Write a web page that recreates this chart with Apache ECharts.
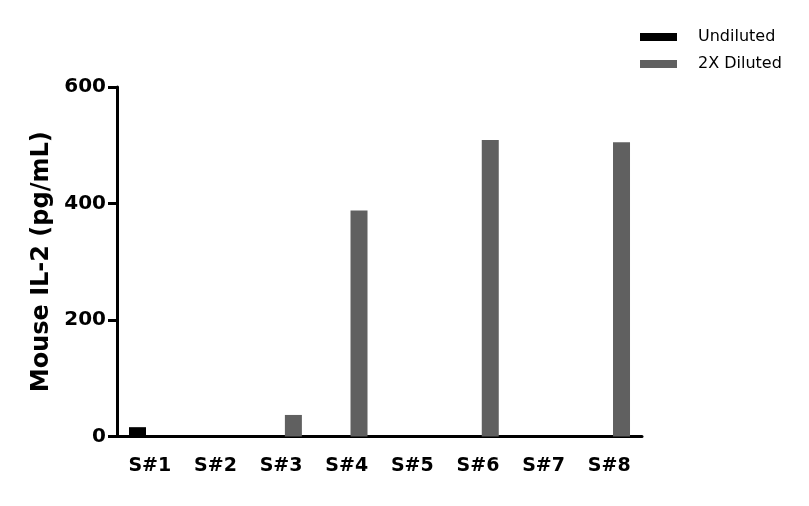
<!DOCTYPE html>
<html>
<head>
<meta charset="utf-8">
<script src="https://cdn.jsdelivr.net/npm/echarts@6/dist/echarts.min.js"></script>
<style>
  html, body { margin: 0; padding: 0; background: #fff; }
  #chart { width: 809px; height: 506px; }
</style>
</head>
<body>
<div id="chart"></div>
<script>
// samples on the x axis
const categories = ['S#1', 'S#2', 'S#3', 'S#4', 'S#5', 'S#6', 'S#7', 'S#8'];
// values, pg/mL (null = no bar)
const undiluted = [16, null, null, null, null, null, null, null];
const diluted2x = [null, null, 37, 388, null, 509, null, 505];
const seriesNames = ['Undiluted', '2X Diluted'];

const chart = echarts.init(document.getElementById('chart'));

const axisFont = {
  fontFamily: 'DejaVu Sans',
  fontWeight: 'bold',
  color: '#000'
};

const option = {
  animation: false,
  grid: { left: 117, top: 87, width: 525, bottom: 69.5 },
  legend: {
    orient: 'vertical',
    left: 635,
    top: 24,
    itemWidth: 37,
    itemHeight: 8,
    itemGap: 11,
    icon: 'rect',
    data: seriesNames,
    textStyle: {
      fontFamily: 'DejaVu Sans',
      fontSize: 16,
      color: '#000',
      padding: [0, 0, 0, 16],
      lineHeight: 16
    }
  },
  xAxis: {
    type: 'category',
    data: categories,
    axisLine: { lineStyle: { color: '#000', width: 3 } },
    axisTick: { alignWithLabel: true, length: 8, lineStyle: { width: 3 } },
    axisLabel: { ...axisFont, fontSize: 19, margin: 20 }
  },
  yAxis: {
    type: 'value',
    min: 0,
    max: 600,
    interval: 200,
    name: 'Mouse IL-2 (pg/mL)',
    nameLocation: 'middle',
    nameGap: 62,
    nameTextStyle: { ...axisFont, fontSize: 24 },
    splitLine: { show: false },
    axisLine: { show: true, lineStyle: { color: '#000', width: 3 } },
    axisTick: { show: true, length: 9, lineStyle: { width: 3 } },
    axisLabel: { ...axisFont, fontSize: 20, margin: 11 }
  },
  series: [
    {
      name: seriesNames[0],
      type: 'bar',
      data: undiluted,
      barWidth: 17,
      barGap: '45%',
      itemStyle: { color: '#000' }
    },
    {
      name: seriesNames[1],
      type: 'bar',
      data: diluted2x,
      barWidth: 17,
      itemStyle: { color: '#606060' }
    }
  ]
};

chart.setOption(option);
</script>
</body>
</html>
